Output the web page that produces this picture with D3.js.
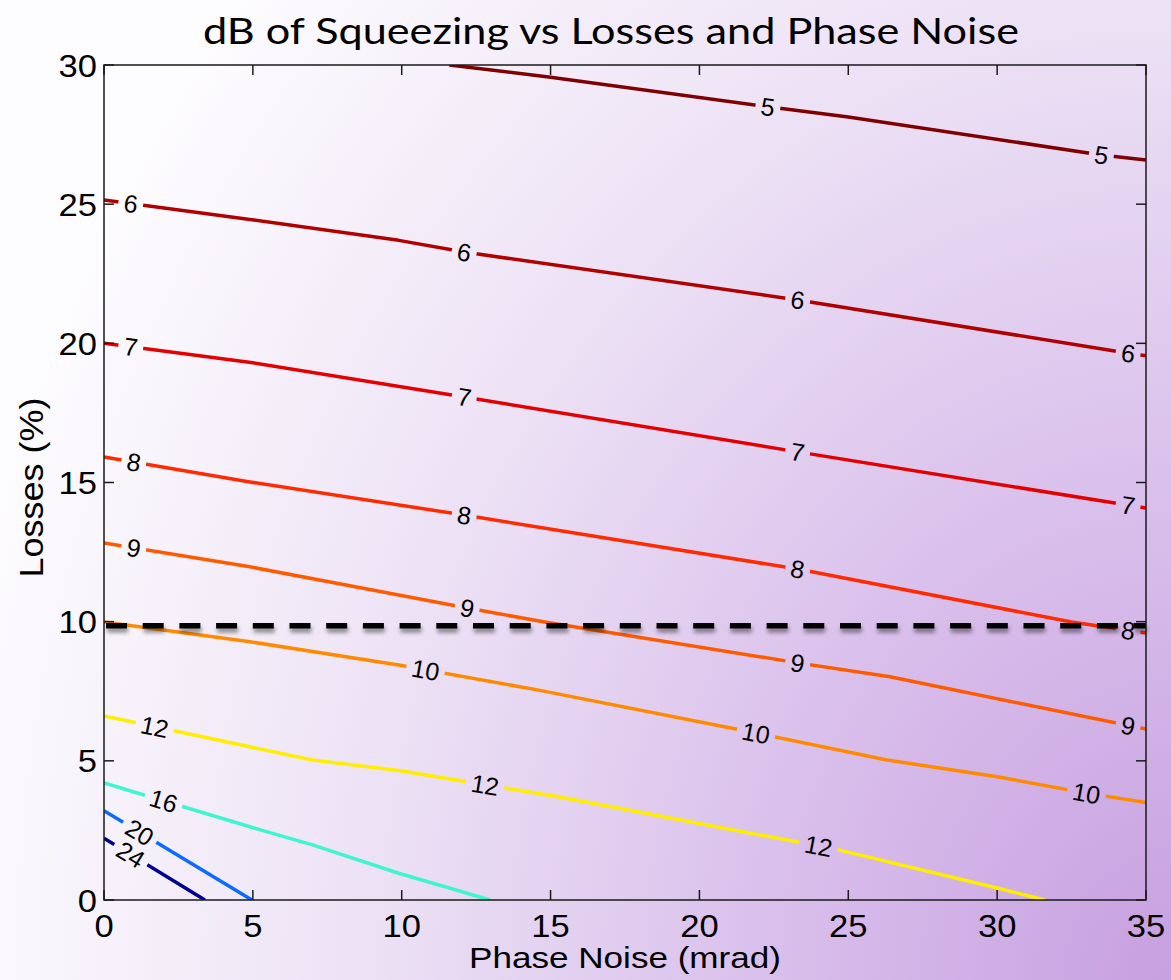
<!DOCTYPE html>
<html>
<head>
<meta charset="utf-8">
<script src="https://cdn.jsdelivr.net/npm/d3@7"></script>
<style>
  html, body { margin: 0; padding: 0; background: #fff; }
  svg { display: block; }
</style>
</head>
<body>
<svg id="chart" width="1171" height="980"></svg>
<script>
// Contour levels (dB of squeezing) and their traced iso-lines [phase noise mrad, losses %]
const levels = [5, 6, 7, 8, 9, 10, 12, 16, 20, 24];

const contour5  = [[11.6, 30], [15, 29.56], [22.3, 28.5], [25, 28.13], [33.5, 26.77], [35, 26.59]];
const contour6  = [[0, 25.15], [4.9, 24.45], [9.9, 23.7], [12.1, 23.28], [23.3, 21.56], [34.1, 19.7], [35, 19.55]];
const contour7  = [[0, 20.0], [5, 19.3], [12.1, 18.07], [23.3, 16.1], [35, 14.08]];
const contour8  = [[0, 15.92], [4.9, 15.02], [12.1, 13.83], [23.3, 11.89], [32.5, 9.99], [35, 9.59]];
const contour9  = [[0, 12.83], [4.9, 11.97], [9.9, 10.96], [12.2, 10.49], [14.8, 9.99], [23.3, 8.52], [26.4, 8.02], [35, 6.14]];
const contour10 = [[0, 9.99], [4.9, 9.28], [9.9, 8.44], [14.6, 7.54], [21.9, 6.0], [26.3, 5.03], [30, 4.43], [33, 3.84], [35, 3.5]];
const contour12 = [[0, 6.61], [7.0, 5.03], [9.9, 4.65], [15.3, 3.7], [24.6, 1.82], [30, 0.43], [31.6, 0]];
const contour16 = [[0, 4.21], [4.9, 2.63], [7.0, 1.98], [9.9, 0.96], [12.97, 0]];
const contour20 = [[0, 3.21], [4.97, 0]];
const contour24 = [[0, 2.22], [3.39, 0]];
const contours = [contour5, contour6, contour7, contour8, contour9, contour10, contour12, contour16, contour20, contour24];

// Phase-noise positions where each contour carries its inline value label
const labelX5  = [22.3, 33.5];
const labelX6  = [0.9, 12.1, 23.3, 34.4];
const labelX7  = [0.9, 12.1, 23.3, 34.4];
const labelX8  = [1.0, 12.1, 23.3, 34.4];
const labelX9  = [1.0, 12.2, 23.3, 34.4];
const labelX10 = [10.8, 21.9, 33.0];
const labelX12 = [1.7, 12.8, 24.0];
const labelX16 = [2.0];
const labelX20 = [1.2];
const labelX24 = [0.9];
const labelPositions = [labelX5, labelX6, labelX7, labelX8, labelX9, labelX10, labelX12, labelX16, labelX20, labelX24];

// Reference loss level (dashed line)
const lossLimit = 9.85;

const xTicks = [0, 5, 10, 15, 20, 25, 30, 35];
const yTicks = [0, 5, 10, 15, 20, 25, 30];

const titleText = "dB of Squeezing vs Losses and Phase Noise";
const xLabelText = "Phase Noise (mrad)";
const yLabelText = "Losses (%)";

// Jet-like colours for each level
const levelColors = ["#7f0000", "#b00000", "#e40000", "#ff2a00", "#ff5a00", "#ff8a00", "#ffee00", "#3ff5cf", "#0a6cff", "#00008f"];

const W = 1171, H = 980;
const plot = { left: 104, right: 1146, top: 65, bottom: 900 };

const svg = d3.select("#chart");
const defs = svg.append("defs");

// Background wash: pale lavender deepening towards the lower right
const bg = defs.append("radialGradient")
  .attr("id", "bgGrad")
  .attr("gradientUnits", "userSpaceOnUse")
  .attr("cx", 0).attr("cy", 0).attr("r", 1)
  .attr("gradientTransform", `translate(${W},${H}) scale(1250,1500)`);
[[0, "#c7a0e0"], [0.3, "#d8bdeb"], [0.65, "#ede2f5"], [0.95, "#fbf9fd"], [1, "#fdfcfe"]]
  .forEach(([o, c]) => bg.append("stop").attr("offset", o).attr("stop-color", c));
svg.append("rect").attr("width", W).attr("height", H).attr("fill", "url(#bgGrad)");

const clip = defs.append("clipPath").attr("id", "plotClip");
clip.append("rect")
  .attr("x", plot.left).attr("y", plot.top)
  .attr("width", plot.right - plot.left).attr("height", plot.bottom - plot.top);

// Soft drop shadow under the dashed line
const shadow = defs.append("filter").attr("id", "dashShadow")
  .attr("filterUnits", "userSpaceOnUse")
  .attr("x", 0).attr("y", 0).attr("width", W).attr("height", H);
shadow.append("feGaussianBlur").attr("in", "SourceAlpha").attr("stdDeviation", 2.2).attr("result", "blur");
shadow.append("feOffset").attr("in", "blur").attr("dx", 1).attr("dy", 4).attr("result", "off");
shadow.append("feComponentTransfer").attr("in", "off").attr("result", "soft")
  .append("feFuncA").attr("type", "linear").attr("slope", 0.45);
const merge = shadow.append("feMerge");
merge.append("feMergeNode").attr("in", "soft");
merge.append("feMergeNode").attr("in", "SourceGraphic");

const x = d3.scaleLinear().domain([0, 35]).range([plot.left, plot.right]);
const y = d3.scaleLinear().domain([0, 30]).range([plot.bottom, plot.top]);

const line = d3.line().x(d => x(d[0])).y(d => y(d[1]));

// Locate a point on a traced contour at a given phase-noise value
function pointAt(pts, xv) {
  let i = 0;
  while (i < pts.length - 2 && pts[i + 1][0] < xv) i++;
  const a = pts[i], b = pts[i + 1];
  const t = (xv - a[0]) / (b[0] - a[0]);
  const yv = a[1] + t * (b[1] - a[1]);
  const ang = Math.atan2(y(b[1]) - y(a[1]), x(b[0]) - x(a[0])) * 180 / Math.PI;
  return { px: x(xv), py: y(yv), angle: ang };
}

const contourLayer = svg.append("g").attr("clip-path", "url(#plotClip)");
const labelLayer = svg.append("g");

levels.forEach((lev, i) => {
  const pts = contours[i];
  const labels = labelPositions[i].map(xv => pointAt(pts, xv));

  // Inline labels
  const texts = labels.map(p => labelLayer.append("text")
    .attr("transform", `translate(${p.px},${p.py}) rotate(${p.angle})`)
    .attr("text-anchor", "middle")
    .attr("dy", "0.36em")
    .attr("font-family", "'Liberation Sans', Arial, sans-serif")
    .attr("font-size", 25)
    .attr("fill", "#000")
    .text(lev));

  // Gaps in the contour line under each label
  const mask = defs.append("mask").attr("id", `gap${i}`)
    .attr("maskUnits", "userSpaceOnUse")
    .attr("x", 0).attr("y", 0).attr("width", W).attr("height", H);
  mask.append("rect").attr("width", W).attr("height", H).attr("fill", "#fff");
  labels.forEach((p, k) => {
    const w = texts[k].node().getComputedTextLength() + 11;
    mask.append("rect")
      .attr("transform", `translate(${p.px},${p.py}) rotate(${p.angle})`)
      .attr("x", -w / 2).attr("y", -12).attr("width", w).attr("height", 24)
      .attr("fill", "#000");
  });

  contourLayer.append("path")
    .datum(pts)
    .attr("d", line)
    .attr("fill", "none")
    .attr("stroke", levelColors[i])
    .attr("stroke-width", 3.5)
    .attr("stroke-linejoin", "round")
    .attr("mask", `url(#gap${i})`);
});

// Dashed loss reference
svg.append("line")
  .attr("x1", x(0) + 2).attr("x2", x(35))
  .attr("y1", y(lossLimit)).attr("y2", y(lossLimit))
  .attr("stroke", "#000")
  .attr("stroke-width", 5.5)
  .attr("stroke-dasharray", "21,15.7")
  .attr("filter", "url(#dashShadow)");

// Axes box with inward ticks on all sides
const frame = svg.append("g").attr("stroke", "#1a1a1a").attr("stroke-width", 1.5).attr("fill", "none");
frame.append("rect")
  .attr("x", plot.left).attr("y", plot.top)
  .attr("width", plot.right - plot.left).attr("height", plot.bottom - plot.top);
const tickLen = 10;
xTicks.forEach(t => {
  frame.append("line").attr("x1", x(t)).attr("x2", x(t)).attr("y1", plot.bottom).attr("y2", plot.bottom - tickLen);
  frame.append("line").attr("x1", x(t)).attr("x2", x(t)).attr("y1", plot.top).attr("y2", plot.top + tickLen);
});
yTicks.forEach(t => {
  frame.append("line").attr("y1", y(t)).attr("y2", y(t)).attr("x1", plot.left).attr("x2", plot.left + tickLen);
  frame.append("line").attr("y1", y(t)).attr("y2", y(t)).attr("x1", plot.right).attr("x2", plot.right - tickLen);
});

const tickFont = "'Liberation Sans', Arial, sans-serif";
svg.append("g").selectAll("text").data(xTicks).join("text")
  .attr("x", d => x(d)).attr("y", 937)
  .attr("text-anchor", "middle")
  .attr("font-family", tickFont).attr("font-size", 32)
  .attr("transform", d => `translate(${x(d)},0) scale(1.08,1) translate(${-x(d)},0)`)
  .text(d => d);
svg.append("g").selectAll("text").data(yTicks).join("text")
  .attr("x", 97).attr("y", d => y(d)).attr("dy", "0.36em")
  .attr("text-anchor", "end")
  .attr("font-family", tickFont).attr("font-size", 32)
  .attr("transform", `translate(97,0) scale(1.08,1) translate(-97,0)`)
  .text(d => d);

// Axis titles
svg.append("text")
  .attr("x", (plot.left + plot.right) / 2).attr("y", 968)
  .attr("text-anchor", "middle")
  .attr("font-family", tickFont).attr("font-size", 30)
  .attr("textLength", 312).attr("lengthAdjust", "spacingAndGlyphs")
  .text(xLabelText);
svg.append("text")
  .attr("transform", `translate(43,${(plot.top + plot.bottom) / 2 + 5}) rotate(-90)`)
  .attr("text-anchor", "middle")
  .attr("font-family", tickFont).attr("font-size", 33)
  .attr("textLength", 180).attr("lengthAdjust", "spacingAndGlyphs")
  .text(yLabelText);

// Chart title
svg.append("text")
  .attr("x", 611).attr("y", 44)
  .attr("text-anchor", "middle")
  .attr("font-family", "Lato, 'Open Sans', sans-serif")
  .attr("font-size", 36)
  .attr("textLength", 816).attr("lengthAdjust", "spacingAndGlyphs")
  .text(titleText);
</script>
</body>
</html>
